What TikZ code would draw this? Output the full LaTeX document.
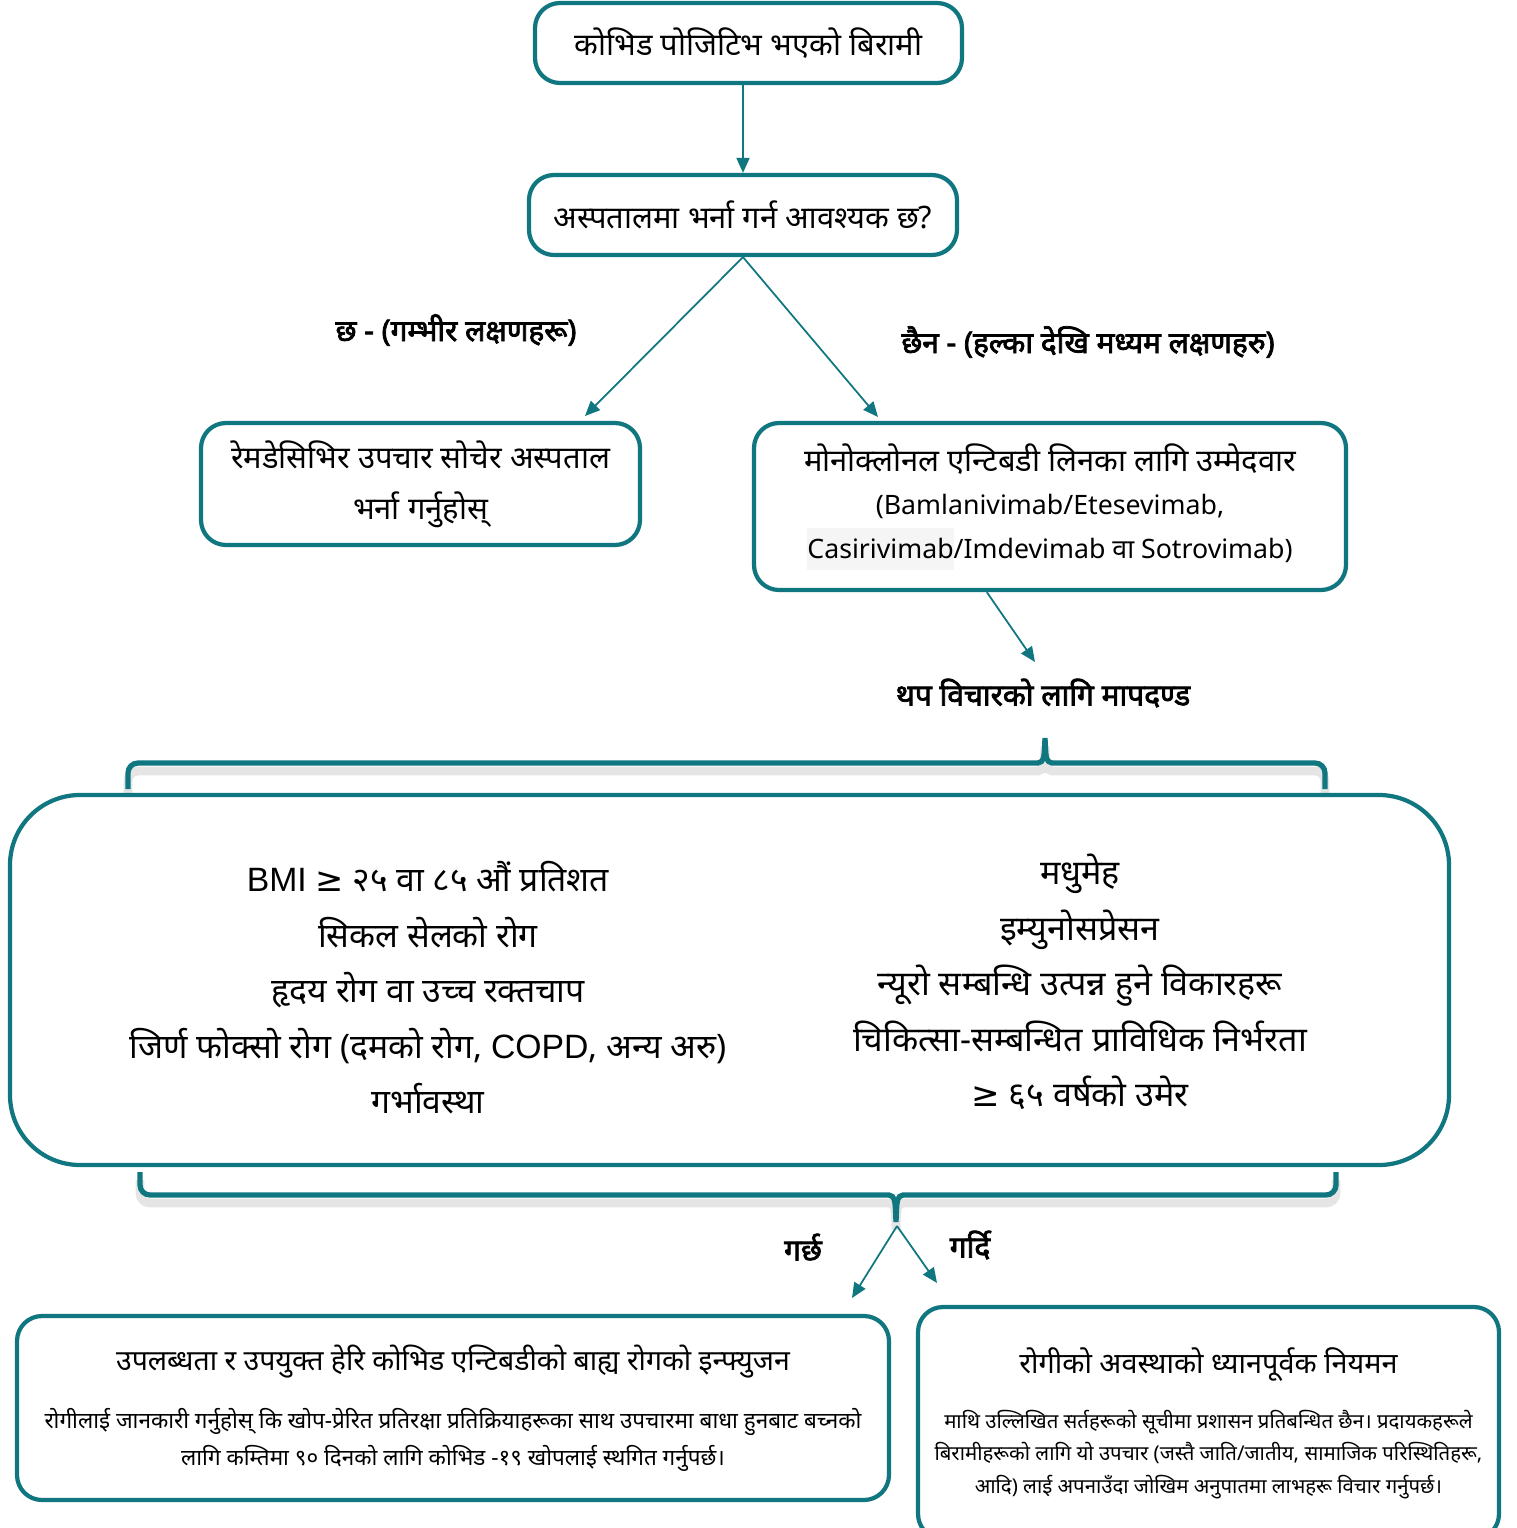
\documentclass[tikz,border=0pt]{standalone}
\usepackage{fontspec}
\newfontfamily\devfont[Script=Devanagari]{Noto Sans}
\newfontfamily\devboldfont[Script=Devanagari, FakeBold=2.5]{Noto Sans}
\newfontfamily\latfont{Liberation Sans}
\newfontfamily\symfont{DejaVu Sans}
\usetikzlibrary{arrows.meta, calc}
\definecolor{tealline}{RGB}{16,118,128}

\begin{document}
\begin{tikzpicture}[
    x=0.1mm, y=-0.1mm,
    box/.style={draw=tealline, line width=1.2pt, rounded corners=2.5mm,
        align=center, inner sep=0pt, fill=white},
    conn/.style={draw=tealline, line width=0.5pt,
        -{Triangle[length=1.5mm,width=1.3mm]}},
    lbl/.style={font=\devboldfont\fontsize{8.5}{10}\selectfont},
    brace/.style={draw=tealline, line width=1.5pt},
    braceshadow/.style={draw=black!10, line width=2.5pt},
    ]

    % Determines the boundries
    \path [use as bounding box] (0,0) rectangle (1517,1528);

    \def\ge{{\symfont ≥}}

    % Top part of the chart
    \node (patient) [box, minimum width=42.7mm, minimum height=8mm,
        font=\devfont\fontsize{8.8}{11}\selectfont] at (748.5,43)
        {कोभिड पोजिटिभ भएको बिरामी};
    \node (admit) [box, minimum width=42.8mm, minimum height=8mm,
        font=\devfont\fontsize{8.8}{11}\selectfont] at (743,215)
        {अस्पतालमा भर्ना गर्न आवश्यक छ?};
    \draw[conn] (patient.south -| admit.south) -- (admit.north);

    \node (remdes) [box, minimum width=43.9mm, minimum height=12.2mm,
        font=\devfont\fontsize{8.8}{14.5}\selectfont] at (420.5,484)
        {रेमडेसिभिर उपचार सोचेर अस्पताल\\ भर्ना गर्नुहोस्};
    \node (mab) [box, minimum width=59.2mm, minimum height=16.7mm,
        font=\devfont\fontsize{8.8}{12.5}\selectfont] at (1050,506.5)
        {मोनोक्लोनल एन्टिबडी लिनका लागि उम्मेदवार\\
         {\fontsize{7.6}{12.5}\selectfont (Bamlanivimab/Etesevimab,}\\
         {\fontsize{7.6}{12.5}\selectfont \colorbox{black!4}{\hspace{-3pt}Casirivimab\hspace{-3pt}}/Imdevimab वा Sotrovimab)}};

    \coordinate (yesend) at (585,416);
    \coordinate (noend) at (878,417);
    \draw[conn] (admit.south) -- (yesend);
    \draw[conn] (admit.south) -- (noend);
    \node (yes) [lbl] at (456,330) {छ - (गम्भीर लक्षणहरू)};
    \node (no) [lbl] at (1088,342) {छैन - (हल्का देखि मध्यम लक्षणहरु)};

    \coordinate (critend) at (1035,662);
    \draw[conn] ($(mab.south west)!0.394!(mab.south east)$) -- (critend);
    \node (critlbl) [lbl] at (1043,693) {थप विचारको लागि मापदण्ड};

    % Braces round the criteria
    \foreach \s/\st in {8/braceshadow, 0/brace}{
        \draw[\st] (128,789+\s) [rounded corners=1mm] -- (128,763+\s) [sharp corners] -- (1038,763+\s)
            .. controls (1044,761+\s) .. (1045,738+\s)
            .. controls (1046,761+\s) .. (1052,763+\s)
            [rounded corners=1mm] -- (1325,763+\s) -- (1325,789+\s);
        \draw[\st] (140,1172+\s) [rounded corners=1mm] -- (140,1195+\s) [sharp corners] -- (889,1195+\s)
            .. controls (895,1197+\s) .. (896,1222+\s)
            .. controls (897,1197+\s) .. (903,1195+\s)
            [rounded corners=1mm] -- (1336,1195+\s) -- (1336,1172+\s);
    }
    \coordinate (tip) at (897,1226);

    % Criteria box
    \node (crit) [box, minimum width=143.9mm, minimum height=37mm,
        rounded corners=7mm] at (729.5,980) {};
    \node (critl) [align=center, font=\devfont\fontsize{9.6}{15.8}\selectfont]
        at (428,988)
        {{\latfont BMI} \ge{} २५ वा ८५ औं प्रतिशत\\
         सिकल सेलको रोग\\
         हृदय रोग वा उच्च रक्तचाप\\
         जिर्ण फोक्सो रोग (दमको रोग, {\latfont COPD}, अन्य अरु)\\
         गर्भावस्था};
    \node (critr) [align=center, font=\devfont\fontsize{9.7}{15.8}\selectfont]
        at (1080,982)
        {मधुमेह\\
         इम्युनोसप्रेसन\\
         न्यूरो सम्बन्धि उत्पन्न हुने विकारहरू\\
         चिकित्सा-सम्बन्धित प्राविधिक निर्भरता\\
         \ge{} ६५ वर्षको उमेर};

    % Bottom part
    \coordinate (doesend) at (852,1298);
    \coordinate (doesntend) at (937,1283);
    \draw[conn] (tip) -- (doesend);
    \draw[conn] (tip) -- (doesntend);
    \node (does) [lbl] at (803,1247) {गर्छ};
    \node (doesnt) [lbl] at (970,1245) {गर्दि};

    \node (infuse) [box, minimum width=87.2mm, minimum height=18.4mm,
        font=\devfont\fontsize{6.4}{10.5}\selectfont] at (453,1408)
        {{\fontsize{8.1}{10.5}\selectfont उपलब्धता र उपयुक्त हेरि कोभिड एन्टिबडीको बाह्य रोगको इन्फ्युजन}\\[6pt]
         रोगीलाई जानकारी गर्नुहोस् कि खोप-प्रेरित प्रतिरक्षा प्रतिक्रियाहरूका साथ उपचारमा बाधा हुनबाट बच्नको\\
         लागि कम्तिमा ९० दिनको लागि कोभिड -१९ खोपलाई स्थगित गर्नुपर्छ।};
    \node (monitor) [box, minimum width=58.1mm, minimum height=23.2mm,
        font=\devfont\fontsize{5.8}{9.2}\selectfont] at (1208.5,1423)
        {{\fontsize{8.2}{10.5}\selectfont रोगीको अवस्थाको ध्यानपूर्वक नियमन}\\[6.5pt]
         माथि उल्लिखित सर्तहरूको सूचीमा प्रशासन प्रतिबन्धित छैन। प्रदायकहरूले\\
         बिरामीहरूको लागि यो उपचार (जस्तै जाति/जातीय, सामाजिक परिस्थितिहरू,\\
         आदि) लाई अपनाउँदा जोखिम अनुपातमा लाभहरू विचार गर्नुपर्छ।};

\end{tikzpicture}
\end{document}
